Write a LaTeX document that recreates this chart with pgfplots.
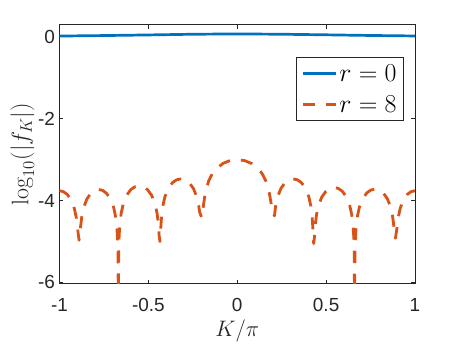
\RequirePackage{fix-cm}
\documentclass[border=0pt]{standalone}
\usepackage{fontspec}
\newfontfamily\arial{Liberation Sans}
\usepackage{pgfplots}
\pgfplotsset{compat=1.18}
\definecolor{mblue}{rgb}{0,0.447,0.741}
\definecolor{morange}{rgb}{0.85,0.325,0.098}
\definecolor{axgray}{rgb}{0.15,0.15,0.15}

\begin{document}
\begin{tikzpicture}
\begin{axis}[
    name=ax,
    scale only axis,
    width=355.5bp, height=259.2bp,
    xmin=-1, xmax=1, ymin=-6.03, ymax=0.3,
    xtick={-1,-0.5,0,0.5,1},
    ytick={-6,-4,-2,0},
    tick align=inside,
    major tick length=4bp,
    axis line style={axgray, line width=1bp},
    tick style={axgray, line width=0.8bp},
    /pgf/number format/assume math mode=true,
    ticklabel style={font=\arial\fontsize{19}{22}\selectfont, text=axgray},
    xticklabel style={yshift=-11bp},
    yticklabel style={xshift=-1bp},
    label style={font=\fontsize{22.5}{26}\selectfont, text=axgray},
    xlabel={$K/\pi$},
    ylabel={$\log_{10}(|f_K|)$},
    xlabel style={yshift=-1bp},
    ylabel style={yshift=-3bp, font=\fontsize{24}{28}\selectfont},
    legend style={at={(0.969,0.875)}, anchor=north east, draw=axgray,
        line width=1bp, font=\fontsize{26}{30}\selectfont,
        inner sep=5bp, row sep=9bp},
    legend cell align=left,
    legend image code/.code={\draw[#1] (0bp,0bp) -- (33bp,0bp);},
]
\addplot[mblue, line width=2.7bp] coordinates {
    (-1,0.018) (-0.75,0.03) (-0.5,0.045) (-0.25,0.062) (0,0.07)
    (0.25,0.062) (0.5,0.048) (0.75,0.032) (1,0.02)
};
\addlegendentry{$r=0$}

\addplot[morange, line width=2.8bp, line join=round, dash pattern=on 12bp off 11bp] coordinates {
    (-1,-3.76) (-0.978,-3.782) (-0.956,-3.852) (-0.934,-3.991) (-0.9164,-4.194)
    (-0.9054,-4.421) (-0.8988,-4.662) (-0.89,-4.97)
    (-0.8812,-4.632) (-0.8745,-4.391) (-0.8635,-4.164) (-0.8458,-3.961)
    (-0.8237,-3.822) (-0.8016,-3.752) (-0.7795,-3.73) (-0.7574,-3.752)
    (-0.7353,-3.822) (-0.7132,-3.961) (-0.6955,-4.164) (-0.6845,-4.391)
    (-0.6778,-4.632) (-0.6734,-4.932) (-0.6712,-5.233) (-0.669,-6.5)
    (-0.6667,-5.143) (-0.6643,-4.842) (-0.6596,-4.542) (-0.6526,-4.301)
    (-0.6409,-4.074) (-0.6222,-3.871) (-0.5988,-3.732) (-0.5754,-3.662)
    (-0.552,-3.64) (-0.5286,-3.662) (-0.5052,-3.732) (-0.4818,-3.871)
    (-0.4631,-4.074) (-0.4514,-4.301) (-0.4444,-4.542) (-0.4397,-4.842)
    (-0.435,-5.0)
    (-0.4303,-4.672) (-0.4256,-4.372) (-0.4186,-4.131) (-0.4068,-3.904)
    (-0.388,-3.701) (-0.3645,-3.562) (-0.341,-3.492) (-0.3175,-3.47)
    (-0.294,-3.492) (-0.2705,-3.562) (-0.247,-3.701) (-0.2282,-3.904)
    (-0.2165,-4.131) (-0.2118,-4.276) (-0.2,-4.42)
    (-0.18,-3.806) (-0.16,-3.51) (-0.14,-3.343) (-0.12,-3.231) (-0.08,-3.092)
    (-0.04,-3.022) (0,-3.0) (0.04,-3.022) (0.08,-3.092) (0.12,-3.231)
    (0.14,-3.343) (0.16,-3.51) (0.18,-3.806) (0.2,-4.3)
    (0.2092,-4.372) (0.2161,-4.131) (0.2276,-3.904) (0.246,-3.701)
    (0.269,-3.562) (0.292,-3.492) (0.315,-3.47) (0.338,-3.492) (0.361,-3.562)
    (0.384,-3.701) (0.4024,-3.904) (0.4139,-4.131) (0.4208,-4.372)
    (0.4254,-4.672) (0.43,-5.05)
    (0.4346,-4.882) (0.4392,-4.582) (0.4461,-4.341) (0.4576,-4.114)
    (0.476,-3.911) (0.499,-3.772) (0.522,-3.702) (0.545,-3.68) (0.568,-3.702)
    (0.591,-3.772) (0.614,-3.911) (0.6324,-4.114) (0.6439,-4.341)
    (0.6508,-4.582) (0.6554,-4.882) (0.6577,-5.183) (0.66,-6.5)
    (0.6623,-5.223) (0.6646,-4.922) (0.6692,-4.622) (0.6761,-4.381)
    (0.6876,-4.154) (0.706,-3.951) (0.729,-3.812) (0.752,-3.742) (0.775,-3.72)
    (0.798,-3.742) (0.821,-3.812) (0.844,-3.951) (0.8624,-4.154)
    (0.8739,-4.381) (0.8808,-4.622) (0.89,-4.92)
    (0.8988,-4.662) (0.9054,-4.421) (0.9164,-4.194) (0.934,-3.991)
    (0.956,-3.852) (0.978,-3.782) (1,-3.76)
};
\addlegendentry{$r=8$}
\end{axis}
\path ([xshift=-59.5bp,yshift=-59.3bp]ax.south west)
    rectangle ([xshift=43bp,yshift=24.5bp]ax.north east);
\end{tikzpicture}
\end{document}
